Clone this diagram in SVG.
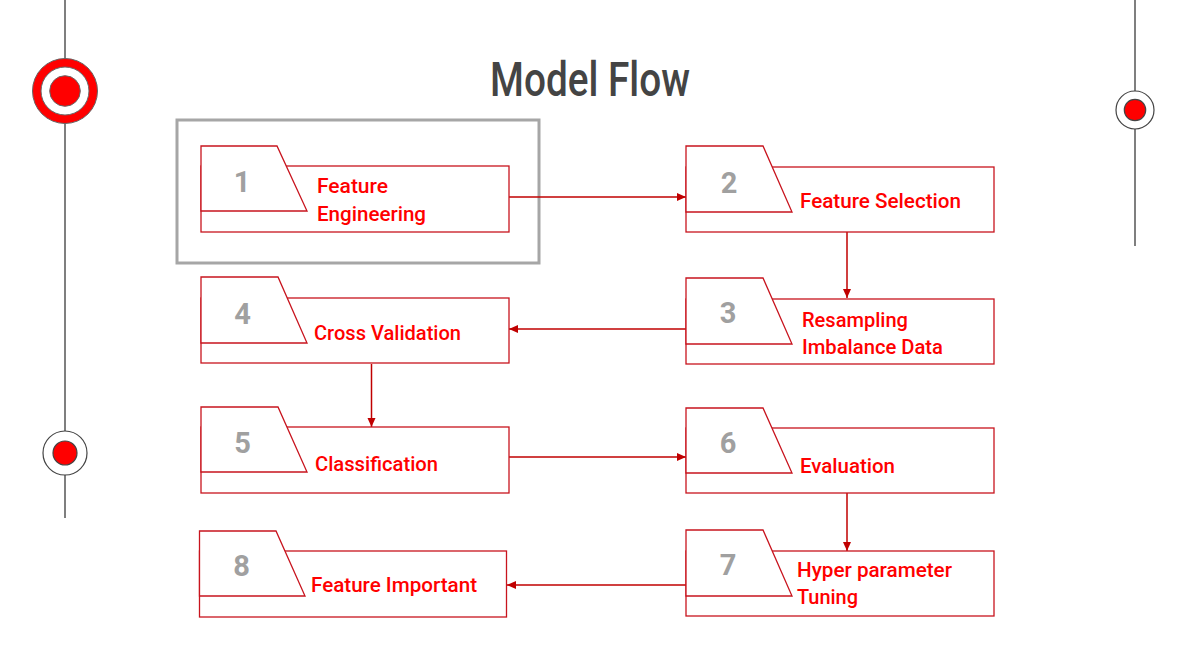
<svg xmlns="http://www.w3.org/2000/svg" width="1195" height="672" viewBox="0 0 1195 672">
<style>
.box{fill:#fff;stroke:#c8141e;stroke-width:1.3}
.tab{fill:#fff;stroke:#c8141e;stroke-width:1.3;stroke-linejoin:miter}
.lbl{font-family:Roboto,"Liberation Sans",sans-serif;font-size:21px;font-weight:500;fill:#ff0000}
.num{font-family:Roboto,"Liberation Sans",sans-serif;font-size:29px;font-weight:700;fill:#a0a0a0;text-anchor:middle}
.conn{stroke:#c00000;stroke-width:1.5;fill:none}
.deco{stroke:#555;stroke-width:1.5;fill:none}
</style>
<defs>
<marker id="arr" markerWidth="10" markerHeight="10" refX="9" refY="5" orient="auto" markerUnits="userSpaceOnUse">
<path d="M0,1 L9,5 L0,9 Z" fill="#c00000"/>
</marker>
</defs>
<rect width="1195" height="672" fill="#fff"/>
<g id="decor">
<line class="deco" x1="65" y1="0" x2="65" y2="518"/>
<line class="deco" x1="1135" y1="0" x2="1135" y2="246"/>
<circle cx="65" cy="91" r="32.5" fill="#ff0000" stroke="#666" stroke-width="1"/>
<circle cx="65" cy="91" r="24" fill="#fff" stroke="#666" stroke-width="1"/>
<circle cx="65" cy="91" r="15.3" fill="#ff0000" stroke="#666" stroke-width="1"/>
<circle cx="65" cy="453" r="22" fill="#fff" stroke="#444" stroke-width="1.2"/>
<circle cx="65" cy="453" r="12" fill="#ff0000" stroke="#444" stroke-width="1.2"/>
<circle cx="1135" cy="110" r="19" fill="#fff" stroke="#444" stroke-width="1.2"/>
<circle cx="1135" cy="110" r="10.7" fill="#ff0000" stroke="#444" stroke-width="1.2"/>
</g>
<g id="title">
<text x="590" y="96" text-anchor="middle" font-family="Roboto,'Liberation Sans',sans-serif" font-size="49" font-weight="500" fill="#444" textLength="200" lengthAdjust="spacingAndGlyphs">Model Flow</text>
</g>
<g id="highlight">
<rect x="177" y="120" width="362" height="143" fill="none" stroke="#a6a6a6" stroke-width="3"/>
</g>
<g id="connectors">
<line class="conn" x1="509" y1="197" x2="686" y2="197" marker-end="url(#arr)"/>
<line class="conn" x1="847" y1="232" x2="847" y2="298" marker-end="url(#arr)"/>
<line class="conn" x1="686" y1="329" x2="509" y2="329" marker-end="url(#arr)"/>
<line class="conn" x1="371.5" y1="364" x2="371.5" y2="427" marker-end="url(#arr)"/>
<line class="conn" x1="509" y1="457" x2="686" y2="457" marker-end="url(#arr)"/>
<line class="conn" x1="847" y1="493" x2="847" y2="551" marker-end="url(#arr)"/>
<line class="conn" x1="686" y1="585" x2="507" y2="585" marker-end="url(#arr)"/>
</g>
<g id="node1">
<rect class="box" x="201" y="166" width="308" height="66"/>
<path class="tab" d="M201,211 L201,146 L277,146 L307,211 Z"/>
<text class="num" x="242" y="192">1</text>
<text class="lbl" x="317" y="193" textLength="71" lengthAdjust="spacingAndGlyphs">Feature</text>
<text class="lbl" x="317" y="221" textLength="109" lengthAdjust="spacingAndGlyphs">Engineering</text>
</g>
<g id="node2">
<rect class="box" x="686" y="167" width="308" height="65"/>
<path class="tab" d="M686,212 L686,146 L763,146 L792,212 Z"/>
<text class="num" x="729" y="193">2</text>
<text class="lbl" x="800" y="208" textLength="161" lengthAdjust="spacingAndGlyphs">Feature Selection</text>
</g>
<g id="node3">
<rect class="box" x="686" y="299" width="308" height="65"/>
<path class="tab" d="M686,344 L686,278 L763,278 L792,344 Z"/>
<text class="num" x="728" y="323">3</text>
<text class="lbl" x="802" y="327" textLength="106" lengthAdjust="spacingAndGlyphs">Resampling</text>
<text class="lbl" x="802" y="354" textLength="141" lengthAdjust="spacingAndGlyphs">Imbalance Data</text>
</g>
<g id="node4">
<rect class="box" x="201" y="298" width="308" height="65"/>
<path class="tab" d="M201,343 L201,277 L278,277 L307,343 Z"/>
<text class="num" x="242.5" y="324">4</text>
<text class="lbl" x="314" y="340" textLength="147" lengthAdjust="spacingAndGlyphs">Cross Validation</text>
</g>
<g id="node5">
<rect class="box" x="201" y="427" width="308" height="66"/>
<path class="tab" d="M201,472 L201,407 L278,407 L307,472 Z"/>
<text class="num" x="242.5" y="453">5</text>
<text class="lbl" x="315" y="471" textLength="123" lengthAdjust="spacingAndGlyphs">Classification</text>
</g>
<g id="node6">
<rect class="box" x="686" y="428" width="308" height="65"/>
<path class="tab" d="M686,473 L686,408 L763,408 L792,473 Z"/>
<text class="num" x="728" y="453">6</text>
<text class="lbl" x="800" y="473" textLength="95" lengthAdjust="spacingAndGlyphs">Evaluation</text>
</g>
<g id="node7">
<rect class="box" x="686" y="551" width="308" height="65"/>
<path class="tab" d="M686,596 L686,530 L763,530 L792,596 Z"/>
<text class="num" x="728" y="575">7</text>
<text class="lbl" x="797" y="577" textLength="155" lengthAdjust="spacingAndGlyphs">Hyper parameter</text>
<text class="lbl" x="797" y="604" textLength="61" lengthAdjust="spacingAndGlyphs">Tuning</text>
</g>
<g id="node8">
<rect class="box" x="199.5" y="551" width="307" height="66"/>
<path class="tab" d="M199.5,596 L199.5,531 L276,531 L305,596 Z"/>
<text class="num" x="241.5" y="576">8</text>
<text class="lbl" x="311" y="592" textLength="166" lengthAdjust="spacingAndGlyphs">Feature Important</text>
</g>
</svg>
